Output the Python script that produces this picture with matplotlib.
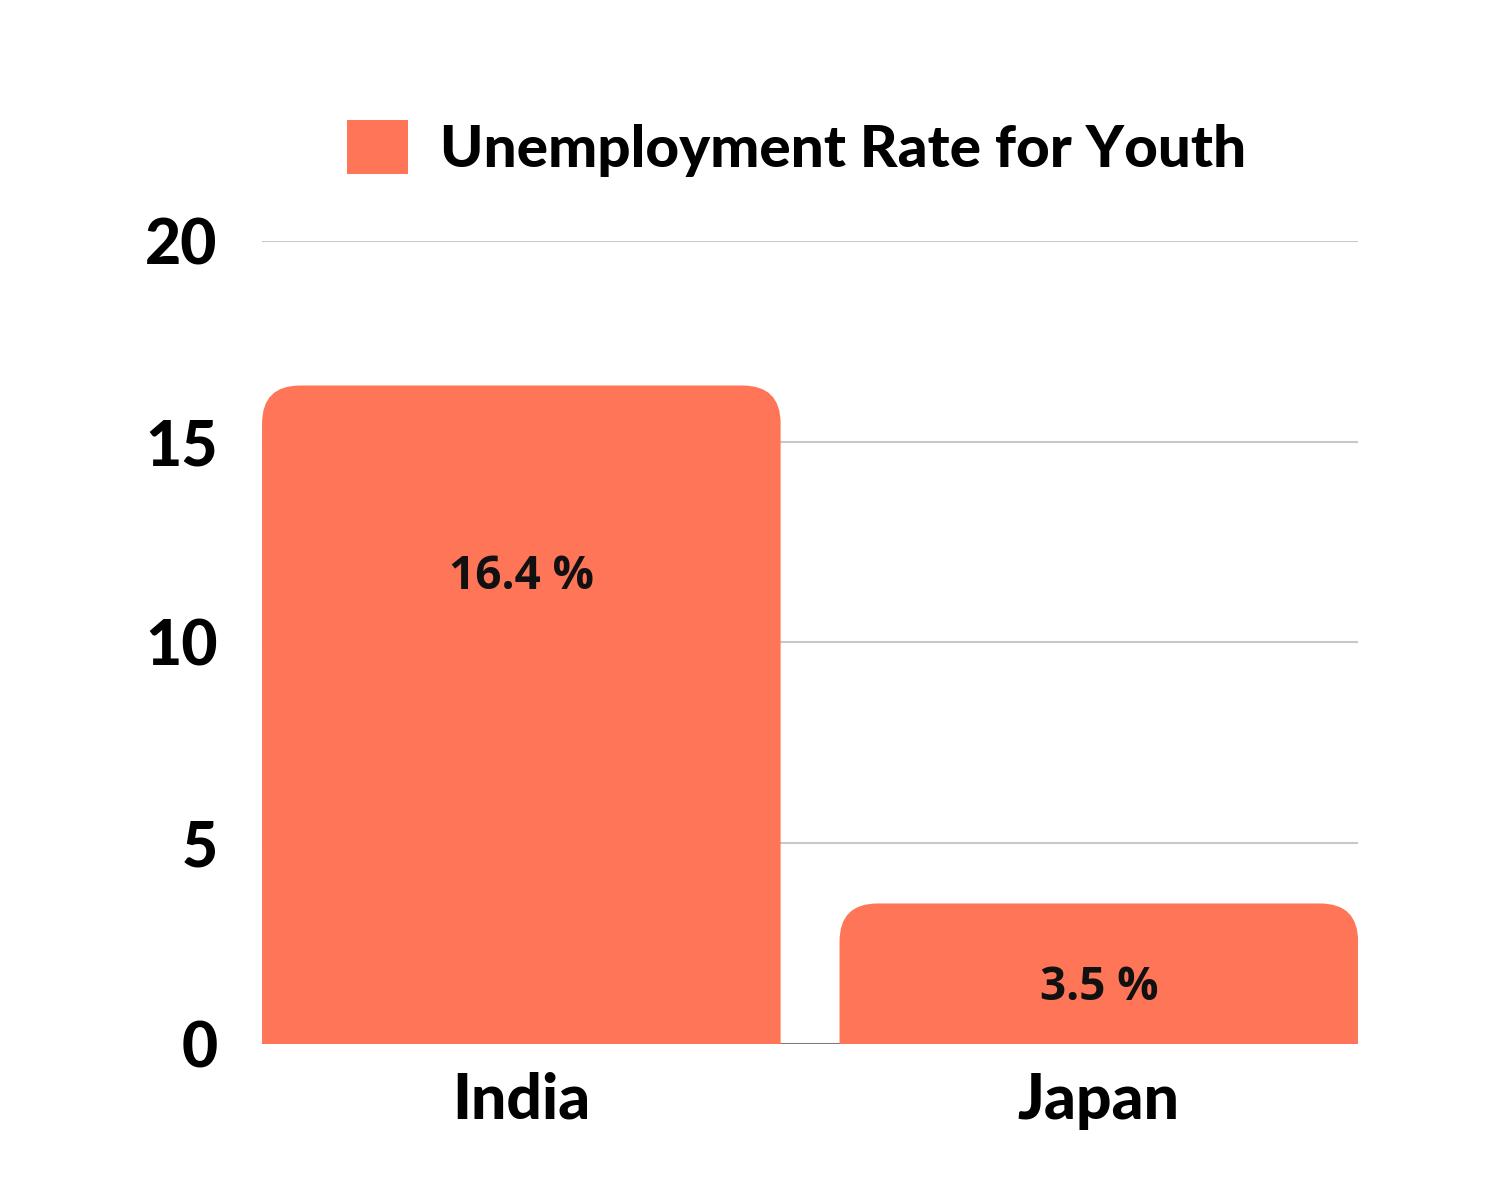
import matplotlib
matplotlib.use('Agg')
import matplotlib.pyplot as plt
from matplotlib.patches import FancyBboxPatch, Patch

countries = ['India', 'Japan']
rates = [16.4, 3.5]
series_name = 'Unemployment Rate for Youth'
yticks = [0, 5, 10, 15, 20]

bar_color = '#FF7557'
grid_color = '#C8C8C8'
bar_w = 0.898

fig = plt.figure(figsize=(15, 12), dpi=100)
ax = fig.add_axes([0.1747, 0.13, 0.7307, 0.6692])
ax.set_xlim(-bar_w / 2, len(countries) - 1 + bar_w / 2)
ax.set_ylim(0, 20)

# gridlines behind bars, darker baseline
for t in yticks[1:]:
    ax.axhline(t, color=grid_color, lw=1.5, zorder=1)
ax.axhline(0, color='#7a7a7a', lw=1.5, zorder=1)

bars = ax.bar(range(len(countries)), rates, width=bar_w, color=bar_color, zorder=2)

# swap plain bars for ones with rounded top corners
fig.canvas.draw()
px_x = ax.transData.transform([(1, 0)])[0][0] - ax.transData.transform([(0, 0)])[0][0]
px_y = ax.transData.transform([(0, 1)])[0][1] - ax.transData.transform([(0, 0)])[0][1]
radius_px = 38
r_x = radius_px / px_x
aspect = px_x / px_y
for b in bars:
    x, w, h = b.get_x(), b.get_width(), b.get_height()
    b.set_visible(False)
    extra = 2 * radius_px / px_y
    p = FancyBboxPatch((x, -extra), w, h + extra,
                       boxstyle='round,pad=0,rounding_size=%f' % r_x,
                       mutation_aspect=aspect, fc=bar_color, ec='none', zorder=2)
    ax.add_patch(p)

# value labels inside bars
label_heights = [11.65, 1.4]
for i, (v, yl) in enumerate(zip(rates, label_heights)):
    ax.text(i, yl, '%.1f %%' % v, ha='center', va='center', fontsize=33,
            fontweight='bold', family='Open Sans', color='#111111', zorder=3)

ax.set_xticks(range(len(countries)))
ax.set_xticklabels(countries, fontsize=45, fontweight='black', family='Lato')
ax.set_yticks(yticks)
ax.set_yticklabels([str(t) for t in yticks], fontsize=45, fontweight='black', family='Lato')
ax.tick_params(length=0)
ax.tick_params(axis='y', pad=32)
ax.tick_params(axis='x', pad=20)
for s in ax.spines.values():
    s.set_visible(False)

leg = fig.legend(handles=[Patch(fc=bar_color, ec='none', label=series_name)],
                 loc='center', bbox_to_anchor=(0.531, 0.876), frameon=False,
                 handlelength=1.05, handleheight=1.05, handletextpad=0.55,
                 prop={'family': 'Lato', 'weight': 'black', 'size': 42})

fig.savefig('out.png', dpi=100, facecolor='white')
